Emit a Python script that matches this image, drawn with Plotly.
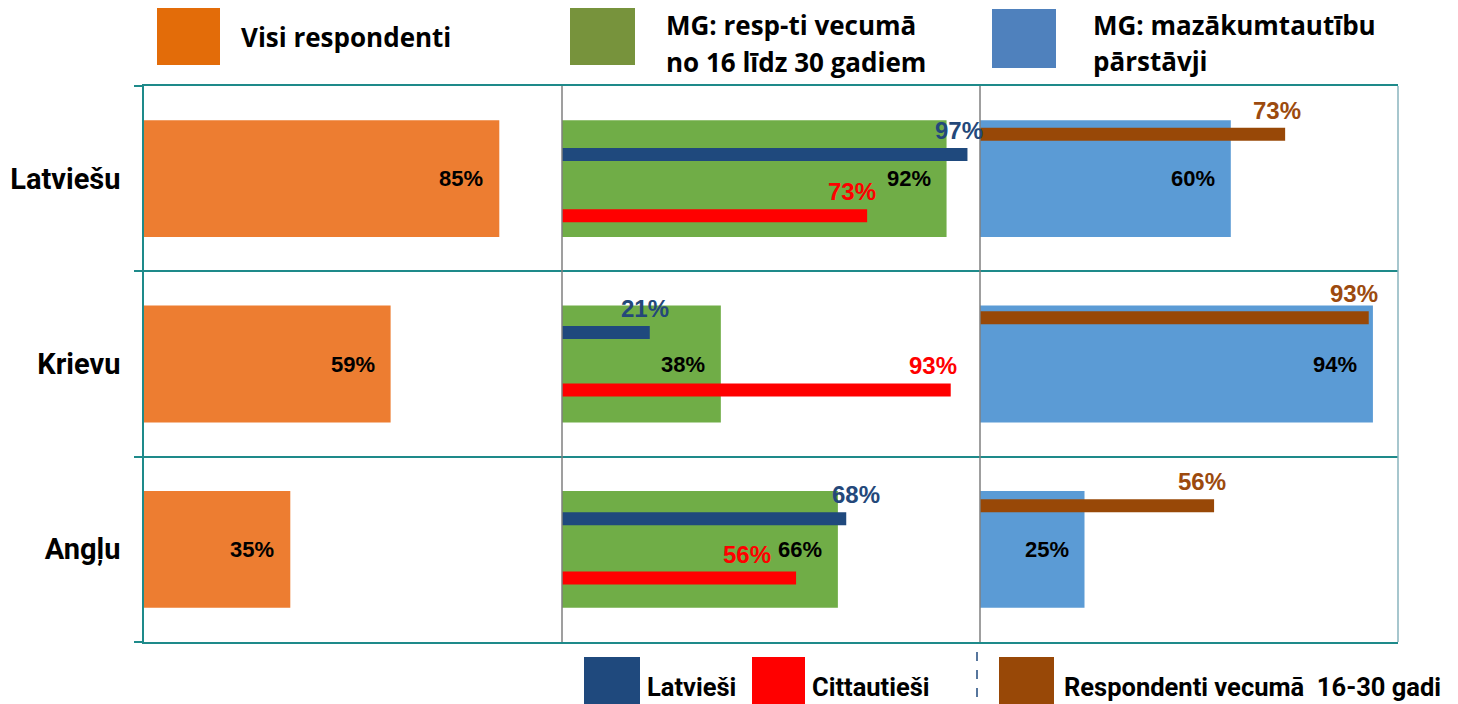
import plotly.graph_objects as go

# categories and values (percent)
rows = ["Latviešu", "Krievu", "Angļu"]
visi = [85, 59, 35]            # Visi respondenti
mg_jauni = [92, 38, 66]        # MG: resp-ti vecumā no 16 līdz 30 gadiem
mg_maz = [60, 94, 25]          # MG: mazākumtautību pārstāvji
latviesi = [97, 21, 68]        # Latvieši (line)
cittautiesi = [73, 93, 56]     # Cittautieši (line)
resp_16_30 = [73, 93, 56]      # Respondenti vecumā 16-30 gadi (line)

# the html page puts the figure 8px in from the top-left corner
OFF = 8
W, H = 1458 - OFF, 704 - OFF
L, R, T, B = 144 - OFF, 60, 86 - OFF, 62

TEAL = "#1E8A8A"
NUM_FONT = "Liberation Sans, Arial, sans-serif"
NARROW = "Roboto, sans-serif"
WIDE = "Open Sans, sans-serif"


def px(x):
    # page pixel -> paper x
    return (x - OFF - L) / (W - L - R)


def py(y):
    # page pixel -> paper y
    return (H - B - (y - OFF)) / (H - T - B)


fig = go.Figure()
ypos = list(range(len(rows)))

# wide bars, one panel each
bar_sets = [
    (visi, "x", "#ED7D31"),
    (mg_jauni, "x2", "#70AD47"),
    (mg_maz, "x3", "#5B9BD5"),
]
for vals, xa, col in bar_sets:
    fig.add_trace(go.Bar(
        x=vals, y=ypos, orientation="h", width=0.63,
        marker=dict(color=col, line_width=0),
        xaxis=xa, yaxis="y", hoverinfo="x",
    ))
    for v, yy in zip(vals, ypos):
        fig.add_annotation(
            x=v, y=yy, xref=xa, yref="y", text=f"{v}%", showarrow=False,
            xanchor="right", xshift=-14,
            font=dict(family=NUM_FONT, size=22, color="black", weight="bold"),
        )

# thick overlay lines: (values, axis, row offsets, line colour, label colour, label nudges)
line_sets = [
    (latviesi, "x2", [-0.13, -0.17, -0.165], "#1F497D", "#24487A", [-8, -5, 10]),
    (cittautiesi, "x2", [0.20, 0.14, 0.155], "#FF0000", "#FF0000", [-15, -18, -49]),
    (resp_16_30, "x3", [-0.24, -0.25, -0.235], "#984807", "#9C4A0E", [-8, -15, -12]),
]
for vals, xa, offs, col, tcol, nudges in line_sets:
    xs, ys = [], []
    for v, yy, off in zip(vals, ypos, offs):
        xs += [0, v, None]
        ys += [yy + off, yy + off, None]
    fig.add_trace(go.Scatter(
        x=xs, y=ys, mode="lines", line=dict(color=col, width=13),
        xaxis=xa, yaxis="y", hoverinfo="skip",
    ))
    for v, yy, off, dx in zip(vals, ypos, offs, nudges):
        fig.add_annotation(
            x=v, y=yy + off, xref=xa, yref="y", text=f"{v}%", showarrow=False,
            xanchor="center", yanchor="middle", xshift=dx, yshift=24,
            font=dict(family=NUM_FONT, size=24, color=tcol, weight="bold"),
        )

xax = dict(range=[0, 100], showticklabels=False, ticks="", showgrid=False,
           zeroline=False, showline=True, mirror=True, linecolor=TEAL,
           linewidth=1.5, anchor="y", fixedrange=True, automargin=False)

fig.update_layout(
    width=W, height=H,
    margin=dict(l=L, r=R, t=T, b=B),
    plot_bgcolor="white", paper_bgcolor="white",
    showlegend=False,
    xaxis=dict(domain=[0, 1 / 3], **xax),
    xaxis2=dict(domain=[1 / 3, 2 / 3], **xax),
    xaxis3=dict(domain=[2 / 3, 1], **xax),
    yaxis=dict(
        range=[2.5, -0.5], tickvals=ypos, ticktext=rows, ticks="",
        showgrid=False, zeroline=False, showline=True, linecolor=TEAL,
        linewidth=1.5, ticklabelstandoff=16, fixedrange=True, automargin=False,
        tickfont=dict(family=NARROW, size=29, color="black", weight="bold"),
        minor=dict(tickvals=[-0.5, 0.5, 1.5, 2.5], ticks="outside", ticklen=8,
                   tickcolor=TEAL, tickwidth=1.5, showgrid=True,
                   gridcolor=TEAL, gridwidth=1.5),
    ),
)

# panel dividers and right edge
fig.add_shape(type="line", xref="x2 domain", yref="y domain", x0=0, x1=0, y0=0, y1=1,
              line=dict(color="#7F7F7F", width=1.5))
fig.add_shape(type="line", xref="x3 domain", yref="y domain", x0=0, x1=0, y0=0, y1=1,
              line=dict(color="#7F7F7F", width=1.5))
fig.add_shape(type="line", xref="x3 domain", yref="y domain", x0=1, x1=1, y0=0, y1=1,
              line=dict(color="#8AB4BE", width=1.5))


def legend_box(x0, x1, y0, y1, col):
    fig.add_shape(type="rect", xref="paper", yref="paper",
                  x0=px(x0), x1=px(x1), y0=py(y1), y1=py(y0),
                  line_width=0, fillcolor=col)


def legend_text(x, y, text, family, size):
    fig.add_annotation(x=px(x), y=py(y), xref="paper", yref="paper", text=text,
                       showarrow=False, xanchor="left", yanchor="middle",
                       borderpad=0,
                       font=dict(family=family, size=size, color="black", weight="bold"))


# top legend
legend_box(157, 220, 7, 65, "#E36C09")
legend_text(240, 37, "Visi respondenti", WIDE, 26)
legend_box(570, 635, 6, 65, "#77933C")
legend_text(665, 25, "MG: resp-ti vecumā", WIDE, 26)
legend_text(665, 62, "no 16 līdz 30 gadiem", WIDE, 26)
legend_box(992, 1056, 9, 68, "#4F81BD")
legend_text(1092, 25, "MG: mazākumtautību", WIDE, 26)
legend_text(1092, 61, "pārstāvji", WIDE, 26)

# bottom legend
legend_box(584, 640, 657, 704, "#1F497D")
legend_text(646, 687, "Latvieši", NARROW, 25.5)
legend_box(752, 805, 657, 704, "#FF0000")
legend_text(811, 687, "Cittautieši", NARROW, 25.5)
fig.add_shape(type="line", xref="paper", yref="paper", x0=px(977), x1=px(977),
              y0=py(652), y1=py(704), line=dict(color="#1F497D", width=1.5, dash="dash"))
legend_box(999, 1054, 657, 704, "#984807")
legend_text(1063, 687, "Respondenti vecumā  16-30 gadi", NARROW, 25.5)

fig.write_html("out.html")
